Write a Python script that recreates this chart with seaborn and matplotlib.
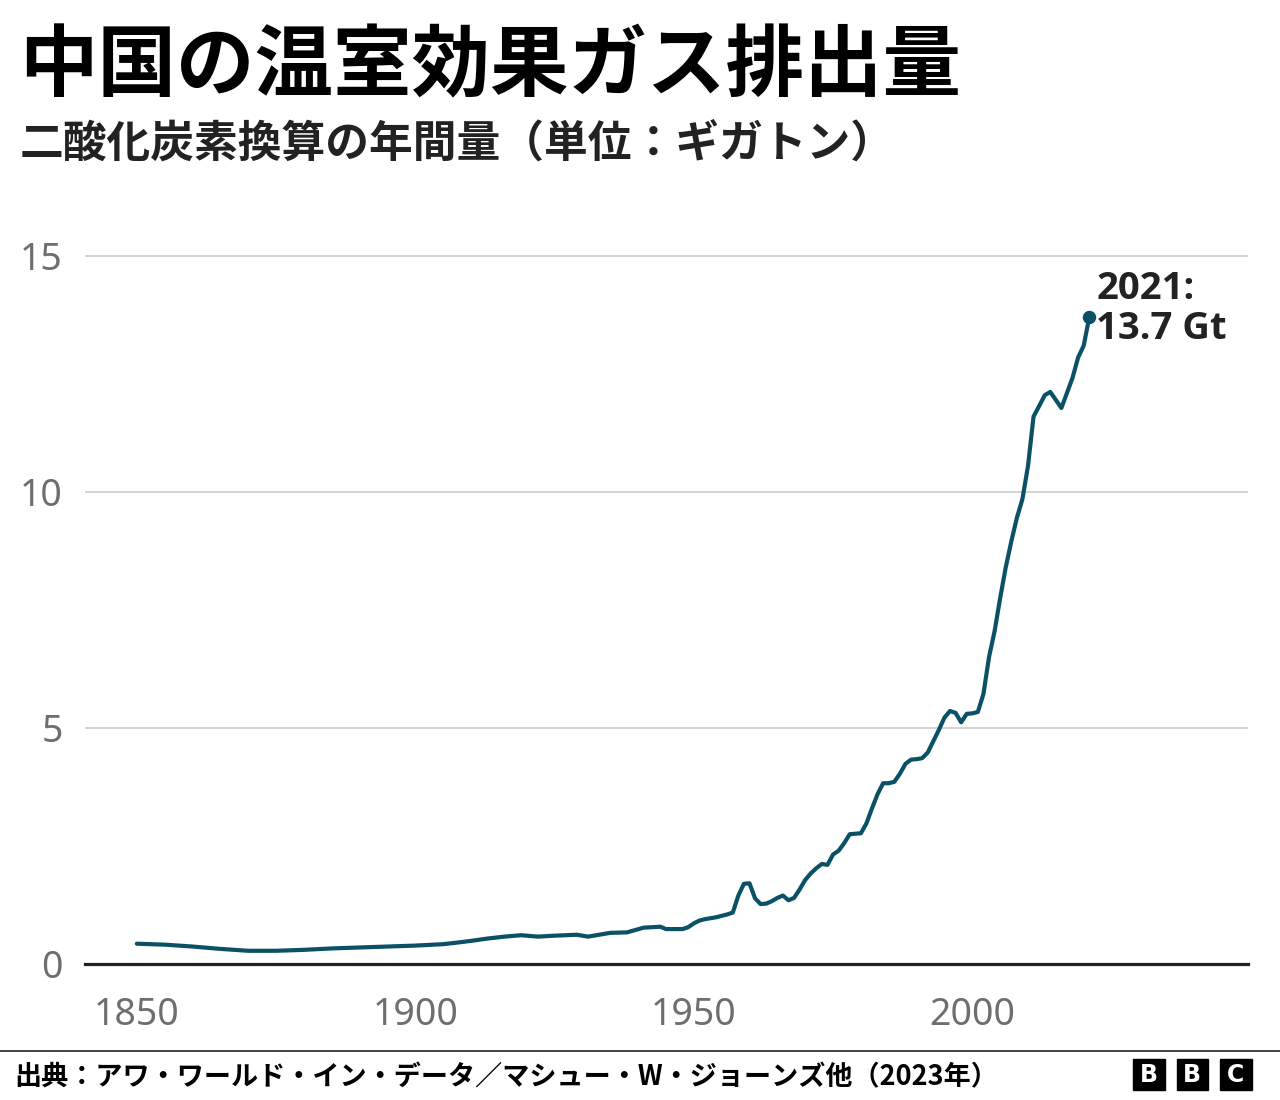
import pandas as pd
import matplotlib.pyplot as plt
import seaborn as sns
from matplotlib.lines import Line2D
from matplotlib.patches import Rectangle


# 中国の温室効果ガス排出量（Gt CO2換算）
early_years = [1850, 1855, 1860, 1865, 1870, 1875, 1880, 1885, 1890, 1895,
               1900, 1905, 1908, 1910, 1913, 1916, 1919, 1922, 1925, 1929,
               1931, 1935, 1938, 1941, 1944, 1945, 1947]
early_vals = [0.43, 0.41, 0.37, 0.32, 0.28, 0.28, 0.30, 0.33, 0.35, 0.37,
              0.39, 0.42, 0.46, 0.49, 0.54, 0.58, 0.61, 0.58, 0.60, 0.62,
              0.58, 0.66, 0.67, 0.77, 0.79, 0.74, 0.74]

late_years = list(range(1948, 2022))
late_vals = [0.74, 0.78, 0.86, 0.92, 0.95, 0.97, 0.99, 1.02, 1.05, 1.09,
             1.45, 1.70, 1.71, 1.39, 1.27, 1.28, 1.33, 1.40, 1.45, 1.35,
             1.40, 1.58, 1.78, 1.92, 2.03, 2.12, 2.10, 2.32, 2.40, 2.56,
             2.75, 2.76, 2.77, 2.98, 3.30, 3.60, 3.83, 3.83, 3.86, 4.03,
             4.24, 4.33, 4.34, 4.36, 4.48, 4.72, 4.96, 5.22, 5.36, 5.32,
             5.12, 5.30, 5.31, 5.34, 5.72, 6.50, 7.05, 7.75, 8.40, 8.95,
             9.45, 9.85, 10.55, 11.60, 11.82, 12.05, 12.12, 11.95, 11.78, 12.10,
             12.42, 12.85, 13.10, 13.70]

x_ticks = [1850, 1900, 1950, 2000]
y_ticks = [0, 5, 10, 15]

df = pd.DataFrame({'year': early_years + late_years,
                   'emissions': early_vals + late_vals})

line_color = '#0b5165'
grey = '#6e6e6e'
cjk = ['Noto Sans CJK JP', 'DejaVu Sans']

sns.set_style('white')
plt.rcParams['font.family'] = ['Noto Sans', 'Noto Sans CJK JP', 'DejaVu Sans']

fig = plt.figure(figsize=(12.8, 11), dpi=100)
ax = fig.add_axes([85 / 1280, 1 - 964 / 1100, (1248 - 85) / 1280, (964 - 232.4) / 1100])

sns.lineplot(data=df, x='year', y='emissions', ax=ax, color=line_color,
             linewidth=3.0)

last = df.iloc[-1]
ax.scatter([last['year']], [last['emissions']], s=75, color=line_color, zorder=5)
ax.annotate('2021:\n13.7 Gt', xy=(last['year'], last['emissions']),
            xytext=(5, 6), textcoords='offset points', ha='left', va='center',
            fontsize=27.5, fontweight='bold', color='#222222', linespacing=1.1,
            family=['Open Sans', 'DejaVu Sans'])

ax.set_xlim(1840.7, 2049.5)
ax.set_ylim(0, 15.5)
ax.set_xticks(x_ticks)
ax.set_yticks(y_ticks)
ax.set_xlabel('')
ax.set_ylabel('')
ax.grid(axis='y', color='#cccccc', linewidth=1.2)
ax.set_axisbelow(True)
for side in ['top', 'right', 'left']:
    ax.spines[side].set_visible(False)
ax.spines['bottom'].set_color('#222222')
ax.spines['bottom'].set_linewidth(2.3)
ax.tick_params(axis='x', length=11, width=1.3, color='#222222', pad=12,
               labelsize=27, labelcolor=grey)
ax.tick_params(axis='y', length=0, pad=16, labelsize=27, labelcolor=grey)

fig.text(19 / 1280, 1 - 28 / 1100, '中国の温室効果ガス排出量', ha='left', va='top',
         fontsize=56.5, fontweight='bold', family=cjk, color='#000000')
fig.text(20 / 1280, 1 - 122 / 1100, '二酸化炭素換算の年間量（単位：ギガトン）', ha='left',
         va='top', fontsize=31.5, fontweight='bold', family=cjk, color='#222222')

fig.add_artist(Line2D([0, 1], [1 - 1051 / 1100] * 2, color='#333333', linewidth=1.3))
fig.text(14 / 1280, 1 - 1077 / 1100,
         '出典：アワ・ワールド・イン・データ／マシュー・W・ジョーンズ他（2023年）',
         ha='left', va='center', fontsize=19.5, fontweight='bold', family=cjk,
         color='#000000')

for i, letter in enumerate('BBC'):
    x0 = (1133 + i * 43.5) / 1280
    fig.add_artist(Rectangle((x0, 1 - 1090 / 1100), 31.5 / 1280, 31 / 1100,
                             transform=fig.transFigure, color='#000000'))
    fig.text(x0 + 15.75 / 1280, 1 - 1074.5 / 1100, letter, ha='center', va='center',
             fontsize=17, fontweight='bold', color='white', family='DejaVu Sans')

plt.savefig('out.png', dpi=100)
